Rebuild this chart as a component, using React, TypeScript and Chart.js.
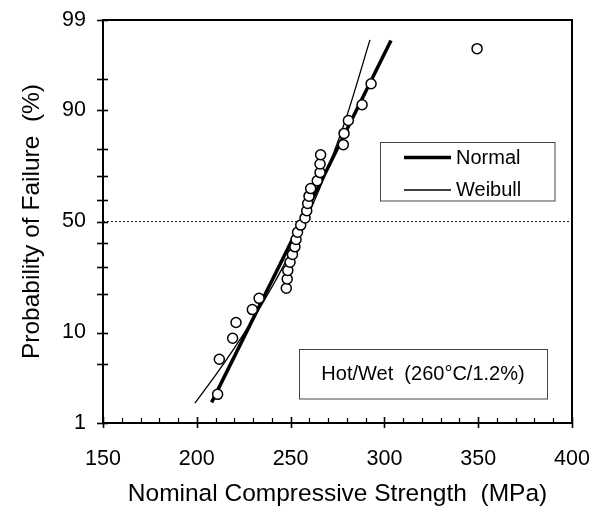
import React, { useEffect, useRef } from "react";
import { Chart, registerables } from "chart.js";
Chart.register(...registerables);

// Observed data (median-rank plotting positions)
const strengthMPa = [211.1, 212.0, 219.1, 220.9, 229.6, 233.2, 247.7, 248.2, 248.5, 249.7, 251.0, 252.3, 252.9, 253.7, 255.4, 257.7, 258.6, 259.1, 259.8, 260.7, 264.2, 265.7, 265.7, 266.0, 278.1, 278.5, 280.8, 288.1, 292.9, 349.4];
const failurePct = [2.30, 5.59, 8.88, 12.17, 15.46, 18.75, 22.04, 25.33, 28.62, 31.91, 35.20, 38.49, 41.78, 45.07, 48.36, 51.64, 54.93, 58.22, 61.51, 64.80, 68.09, 71.38, 74.67, 77.96, 81.25, 84.54, 87.83, 91.12, 94.41, 97.70];

// Fitted distributions
const normalX = [207.9, 303.5];
const normalPct = [1.84, 98.17];
const weibullX = [199, 210, 220, 230, 240, 250, 260, 270, 280, 292.3];
const weibullPct = [1.8, 3.8, 7.2, 13.0, 22.4, 36.2, 54.1, 73.3, 88.9, 98.2];

// 50% reference line
const refX = [150, 400];
const refPct = [50, 50];

// Axis ticks
const yMajorPct = [1, 10, 50, 90, 99];
const yMinorPct = [5, 20, 30, 40, 60, 70, 80, 95];
const xMajor = [150, 200, 250, 300, 350, 400];
const xMinor = [160, 170, 180, 190, 210, 220, 230, 240, 260, 270, 280, 290, 310, 320, 330, 340, 360, 370, 380, 390];

const xTitle = "Nominal Compressive Strength  (MPa)";
const yTitle = "Probability of Failure  (%)";
const legendLabels = ["Normal", "Weibull"];
const noteText = "Hot/Wet  (260°C/1.2%)";

const FONT = "'Liberation Sans', Arial, sans-serif";

function normInv(p: number): number {
  const a = [-3.969683028665376e1, 2.209460984245205e2, -2.759285104469687e2, 1.38357751867269e2, -3.066479806614716e1, 2.506628277459239];
  const b = [-5.447609879822406e1, 1.615858368580409e2, -1.556989798598866e2, 6.680131188771972e1, -1.328068155288572e1];
  const c = [-7.784894002430293e-3, -3.223964580411365e-1, -2.400758277161838, -2.549671010405010, 4.374664141464968, 2.938163982698783];
  const d = [7.784695709041462e-3, 3.224671290700398e-1, 2.445134137142996, 3.754408661907416];
  const pl = 0.02425;
  const ph = 1 - pl;
  let q: number, r: number;
  if (p < pl) {
    q = Math.sqrt(-2 * Math.log(p));
    return (((((c[0] * q + c[1]) * q + c[2]) * q + c[3]) * q + c[4]) * q + c[5]) / ((((d[0] * q + d[1]) * q + d[2]) * q + d[3]) * q + 1);
  }
  if (p <= ph) {
    q = p - 0.5;
    r = q * q;
    return ((((((a[0] * r + a[1]) * r + a[2]) * r + a[3]) * r + a[4]) * r + a[5]) * q) / (((((b[0] * r + b[1]) * r + b[2]) * r + b[3]) * r + b[4]) * r + 1);
  }
  q = Math.sqrt(-2 * Math.log(1 - p));
  return -(((((c[0] * q + c[1]) * q + c[2]) * q + c[3]) * q + c[4]) * q + c[5]) / ((((d[0] * q + d[1]) * q + d[2]) * q + d[3]) * q + 1);
}

const z = (pct: number) => normInv(pct / 100);
const toPoints = (xs: number[], ps: number[]) => xs.map((x, i) => ({ x, y: z(ps[i]) }));

const framePlugin = {
  id: "framePlugin",
  afterDraw(chart: any) {
    const { ctx, chartArea: a, scales } = chart;
    const xs = scales.x;
    const ys = scales.y;
    const line = (x1: number, y1: number, x2: number, y2: number) => {
      ctx.beginPath();
      ctx.moveTo(x1, y1);
      ctx.lineTo(x2, y2);
      ctx.stroke();
    };
    ctx.save();
    ctx.strokeStyle = "#000";
    ctx.lineWidth = 2;
    ctx.strokeRect(a.left, a.top, a.right - a.left, a.bottom - a.top);
    ctx.lineWidth = 1.6;
    for (const p of [...yMajorPct, ...yMinorPct]) {
      const y = Math.round(ys.getPixelForValue(z(p))) + 0.5;
      line(a.left - 6, y, a.left + 5, y);
    }
    for (const v of xMajor) {
      const x = Math.round(xs.getPixelForValue(v)) + 0.5;
      line(x, a.bottom - 6, x, a.bottom + 5);
    }
    ctx.lineWidth = 1.2;
    for (const v of xMinor) {
      const x = Math.round(xs.getPixelForValue(v)) + 0.5;
      line(x, a.bottom - 5, x, a.bottom);
    }

    // Legend box
    ctx.fillStyle = "#fff";
    ctx.strokeStyle = "#444";
    ctx.lineWidth = 1;
    ctx.fillRect(372.5, 134.5, 174.5, 58.5);
    ctx.strokeRect(372.5, 134.5, 174.5, 58.5);
    ctx.strokeStyle = "#000";
    ctx.lineWidth = 3.5;
    line(396, 149.5, 443, 149.5);
    ctx.lineWidth = 1.3;
    line(396, 182, 443, 182);
    ctx.fillStyle = "#000";
    ctx.font = `20px ${FONT}`;
    ctx.textAlign = "left";
    ctx.textBaseline = "middle";
    ctx.fillText(legendLabels[0], 448, 150);
    ctx.fillText(legendLabels[1], 448, 182);

    // Note box
    ctx.fillStyle = "#fff";
    ctx.strokeStyle = "#444";
    ctx.lineWidth = 1;
    ctx.fillRect(291.5, 341.5, 248, 49.5);
    ctx.strokeRect(291.5, 341.5, 248, 49.5);
    ctx.fillStyle = "#000";
    ctx.textAlign = "center";
    ctx.fillText(noteText, 415, 366);
    ctx.restore();
  },
};

export default function App() {
  const ref = useRef<HTMLCanvasElement | null>(null);
  useEffect(() => {
    if (!ref.current) return;
    const chart = new Chart(ref.current, {
      type: "scatter",
      data: {
        datasets: [
          {
            label: "Data",
            data: toPoints(strengthMPa, failurePct),
            pointRadius: 5,
            pointBorderWidth: 1.5,
            pointBorderColor: "#000",
            pointBackgroundColor: "#fff",
            showLine: false,
          },
          {
            label: legendLabels[0],
            data: toPoints(normalX, normalPct),
            showLine: true,
            borderColor: "#000",
            borderWidth: 3.5,
            pointRadius: 0,
          },
          {
            label: legendLabels[1],
            data: toPoints(weibullX, weibullPct),
            showLine: true,
            borderColor: "#000",
            borderWidth: 1.3,
            pointRadius: 0,
            cubicInterpolationMode: "monotone",
          },
          {
            label: "50%",
            data: toPoints(refX, refPct),
            showLine: true,
            borderColor: "#222",
            borderWidth: 1,
            borderDash: [2, 2],
            pointRadius: 0,
          },
        ],
      } as any,
      options: {
        animation: false,
        responsive: false,
        layout: { padding: { top: 12, right: 22, left: 0, bottom: 0 } },
        plugins: { legend: { display: false }, tooltip: { enabled: false } },
        scales: {
          x: {
            type: "linear",
            min: 150,
            max: 400,
            grid: { display: false, drawTicks: false },
            border: { display: false },
            ticks: {
              stepSize: 50,
              padding: 23,
              color: "#000",
              font: { family: FONT, size: 21.5 },
              maxRotation: 0,
            },
            title: {
              display: true,
              text: xTitle,
              color: "#000",
              font: { family: FONT, size: 24.5, lineHeight: 1 },
              padding: { top: 0, bottom: 1 },
            },
            afterFit: (s: any) => {
              s.height = 84;
              s.paddingLeft = 0;
              s.paddingRight = 0;
            },
          },
          y: {
            type: "linear",
            min: z(yMajorPct[0]),
            max: z(yMajorPct[yMajorPct.length - 1]),
            grid: { display: false, drawTicks: false },
            border: { display: false },
            afterBuildTicks: (s: any) => {
              s.ticks = yMajorPct.map((p) => ({ value: z(p) }));
            },
            ticks: {
              padding: 17,
              color: "#000",
              font: { family: FONT, size: 21.5 },
              callback: (v: any) => {
                let best = yMajorPct[0];
                for (const p of yMajorPct) if (Math.abs(z(p) - v) < Math.abs(z(best) - v)) best = p;
                return String(best);
              },
            },
            title: {
              display: true,
              text: yTitle,
              color: "#000",
              font: { family: FONT, size: 24.5, lineHeight: 1 },
              padding: { top: 12, bottom: 0 },
            },
            afterFit: (s: any) => {
              s.width = 95;
              s.paddingTop = 0;
              s.paddingBottom = 0;
            },
          },
        },
      } as any,
      plugins: [framePlugin],
    });
    return () => chart.destroy();
  }, []);
  return <canvas ref={ref} width={586} height={499} style={{ display: "block" }} />;
}
